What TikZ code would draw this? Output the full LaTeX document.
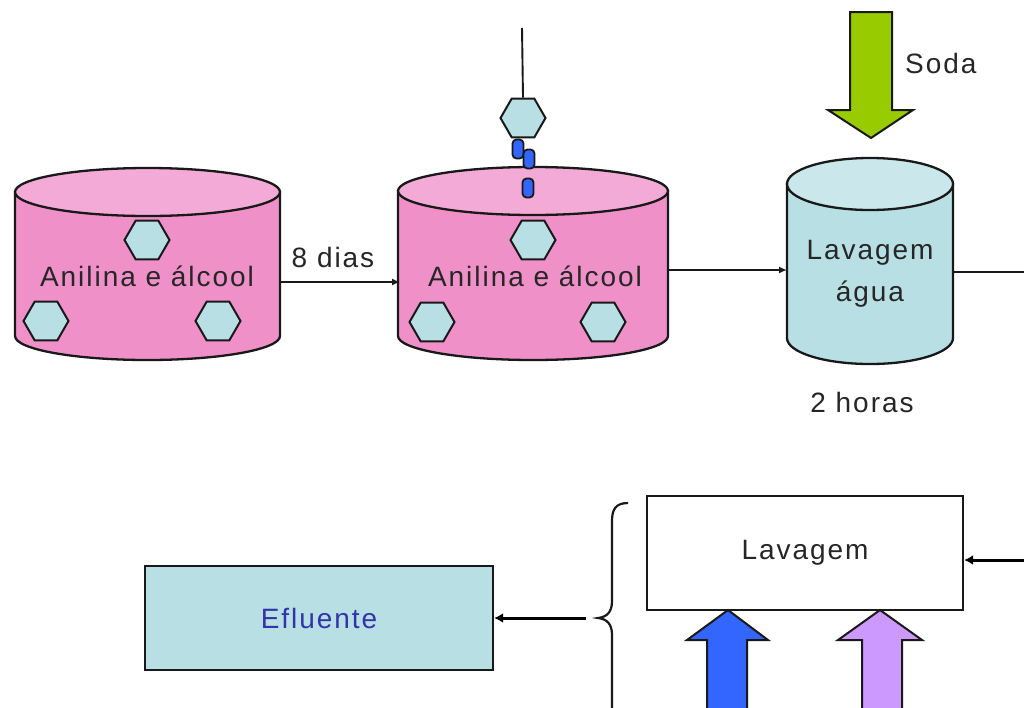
\documentclass[tikz,border=0pt]{standalone}
\usepackage{fontspec}
\setmainfont{Liberation Sans}
\usetikzlibrary{shapes.geometric,arrows.meta}
\definecolor{tankpink}{RGB}{240,144,200}
\definecolor{tankpinktop}{RGB}{243,170,214}
\definecolor{aqua}{RGB}{184,224,228}
\definecolor{aquatop}{RGB}{202,232,236}
\definecolor{sodagreen}{RGB}{153,204,0}
\definecolor{capblue}{RGB}{51,102,255}
\definecolor{lilac}{RGB}{204,153,255}
\definecolor{efltext}{RGB}{51,51,170}

% vertical tank: left, right, top-centre y, bottom-centre y, y-radius, body colour, lid colour
\newcommand\tank[7]{%
  \pgfmathsetmacro\tkrx{(#2-#1)/2}%
  \pgfmathsetmacro\tkcx{(#1+#2)/2}%
  \filldraw[outline, fill=#6] (#1,#3) -- (#1,#4)
     arc[start angle=180, end angle=0, x radius=\tkrx, y radius=#5] -- (#2,#3) -- cycle;
  \filldraw[outline, fill=#7] (\tkcx,#3) ellipse[x radius=\tkrx, y radius=#5];
}

\begin{document}
\begin{tikzpicture}[x=1pt, y=-1pt,
  outline/.style={draw=black!90, line width=2.3pt},
  label/.style={font=\fontsize{28}{33}\selectfont\addfontfeature{LetterSpace=7}, text=black!85, inner sep=0pt, align=center},
  hexa/.style={regular polygon, regular polygon sides=6, minimum size=45pt, inner sep=0pt,
               fill=aqua, draw=black!90, line width=2pt},
  capsule/.style={rectangle, rounded corners=4pt, minimum width=11pt, minimum height=19pt,
               inner sep=0pt, fill=capblue, draw=black!90, line width=1.8pt},
  flow/.style={draw=black!90, line width=1.9pt, -{Latex[length=8pt,width=7pt]}},
  thickflow/.style={draw=black, line width=3pt, -{Latex[length=9pt,width=10pt]}},
  box/.style={rectangle, draw=black!90, line width=2.3pt, inner sep=0pt}]

\useasboundingbox (0,0) rectangle (1024,707);
\clip (0,0) rectangle (1024,707);
\fill[white] (0,0) rectangle (1024,707);

% ---------- tanks ----------
\tank{15}{280}{192}{336}{24}{tankpink}{tankpinktop}
\tank{398}{668}{191}{336}{24}{tankpink}{tankpinktop}
\tank{787}{953}{184}{338}{26}{aqua}{aquatop}

% tank 1 contents
\node[hexa] (h1a) at (147,240) {};
\node[hexa] (h1b) at (46,321) {};
\node[hexa] (h1c) at (218,321) {};
\node[label] (t1) at (147,276) {Anilina e álcool};

% tank 2 contents
\node[hexa] (h2a) at (533,240) {};
\node[hexa] (h2b) at (432,322) {};
\node[hexa] (h2c) at (603,322) {};
\node[label] (t2) at (535,276) {Anilina e álcool};
\node[capsule] (cp3) at (528,188) {};

% hanging hexagon and chain above tank 2
\coordinate (hang) at (522,28);
\node[hexa] (h2top) at (523,118) {};
\draw[draw=black!90, line width=1.9pt] (hang) -- (h2top.north);
\node[capsule] (cp1) at (518,149) {};
\node[capsule] (cp2) at (529,159) {};

% tank 3 contents
\node[label] (t3a) at (870,253) {Lavagem};
\node[label] (t3b) at (870,294) {água};
\node[label] (hrs) at (862,402) {2 horas};

% ---------- connectors between tanks ----------
\coordinate (o1) at (280,282);
\coordinate (i2) at (400,282);
\draw[flow] (o1) -- (i2);
\node[label] (dias) at (333,257) {8 dias};

\coordinate (o2) at (668,270);
\coordinate (i3) at (787,270);
\draw[flow] (o2) -- (i3);

\coordinate (o3) at (953,272);
\coordinate (edge3) at (1030,272);
\draw[draw=black!90, line width=1.9pt] (o3) -- (edge3);

% soda feed
\filldraw[fill=sodagreen, draw=black!90, line width=2pt]
  (850,12) -- (892,12) -- (892,110) -- (913,110) -- (871,138) -- (828,110) -- (850,110) -- cycle;
\node[label, anchor=west] (soda) at (905,63) {Soda};

% ---------- lower part ----------
\node[box, minimum width=316pt, minimum height=114pt] (lav) at (805,553) {};
\node[label] at (lav) {Lavagem};

\node[box, fill=aqua, minimum width=348pt, minimum height=104pt] (efl) at (319,618) {};
\node[label, text=efltext] at (efl) {Efluente};

\coordinate (inR) at (1030,560);
\draw[thickflow] (inR) -- (lav.east |- inR);

% bracket
\draw[draw=black!90, line width=2.2pt]
  (628,503) .. controls (616,503) and (612,509) .. (612,521) -- (612,601)
  .. controls (612,612) and (607,617) .. (598,618)
  .. controls (607,619) and (612,624) .. (612,635) -- (612,720);

\coordinate (brk) at (586,618);
\draw[thickflow] (brk) -- (efl.east);

% inlet arrows under the washing box
\filldraw[fill=capblue, draw=black!90, line width=2pt]
  (707,720) -- (707,640) -- (687,640) -- (728,610) -- (768,640) -- (747,640) -- (747,720) -- cycle;
\filldraw[fill=lilac, draw=black!90, line width=2pt]
  (862,720) -- (862,640) -- (838,640) -- (880,610) -- (922,640) -- (902,640) -- (902,720) -- cycle;

\end{tikzpicture}
\end{document}
